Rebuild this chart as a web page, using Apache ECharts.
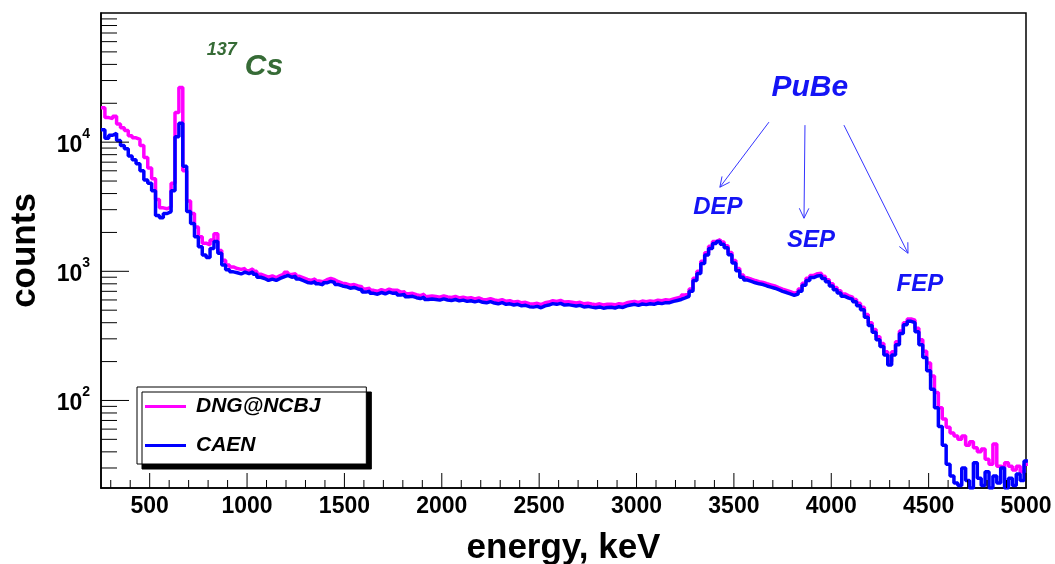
<!DOCTYPE html>
<html>
<head>
<meta charset="utf-8">
<script src="https://cdn.jsdelivr.net/npm/echarts@6/dist/echarts.min.js"></script>
<style>
  html, body { margin: 0; padding: 0; background: #fff; }
  #chart { width: 1055px; height: 564px; }
</style>
</head>
<body>
<div id="chart"></div>
<script>
const FONT = '"Liberation Sans", Arial, Helvetica, sans-serif'

// histogram binning (keV): bin i covers [binStart + i*binWidth, +binWidth)
const binStart = 250
const binWidth = 20

// DNG@NCBJ counts per bin (rows of 100 keV)
const dngCounts = [
  18500, 15500, 15200, 15900, 13800,
  12900, 12300, 11200, 10800, 10500,
  9400, 7600, 6300, 5200, 3600,
  3100, 3050, 3150, 4800, 17000,
  26500, 6000, 3500, 2800, 2200,
  1850, 1650, 1600, 1750, 1950,
  1450, 1220, 1120, 1080, 1050,
  1035, 1050, 1010, 1045, 1000,
  950, 925, 900, 920, 895,
  925, 950, 985, 945, 960,
  915, 890, 865, 850, 875,
  840, 830, 860, 880, 860,
  830, 810, 800, 780, 790,
  770, 760, 730, 738, 712,
  700, 722, 706, 728, 712,
  715, 690, 695, 670, 675,
  660, 648, 665, 638, 645,
  638, 630, 645, 632, 628,
  638, 622, 630, 618, 625,
  612, 622, 606, 602, 614,
  600, 592, 604, 586, 592,
  578, 585, 570, 575, 562,
  558, 565, 552, 570, 578,
  592, 585, 595, 578, 582,
  575, 568, 575, 560, 565,
  558, 552, 560, 548, 555,
  556, 550, 562, 555, 570,
  578, 585, 575, 588, 582,
  590, 585, 598, 592, 602,
  598, 610, 622, 632, 655,
  668, 730, 885, 1000, 1195,
  1390, 1560, 1700, 1760, 1690,
  1580, 1400, 1210, 1050, 935,
  890, 868, 848, 832, 820,
  802, 786, 770, 748, 728,
  712, 695, 678, 690, 728,
  810, 885, 930, 958, 965,
  915, 862, 800, 750, 708,
  668, 646, 632, 605, 565,
  528, 462, 400, 355, 312,
  276, 238, 200, 238, 285,
  345, 400, 428, 418, 362,
  295, 240, 195, 155, 115,
  88, 72, 62, 56, 53,
  50, 53, 45, 48, 43,
  40, 42, 35, 32, 46,
  31, 30, 33, 31, 29,
  31, 28, 32
]

// CAEN counts per bin
const caenCounts = [
  12500, 10700, 11300, 11700, 10300,
  9400, 8900, 7800, 7300, 6800,
  6000, 5100, 4800, 4200, 2700,
  2600, 2800, 2900, 4200, 11000,
  14000, 6500, 2900, 2350, 1850,
  1550, 1340, 1280, 1500, 1700,
  1380, 1120, 1030, 990, 975,
  955, 985, 960, 990, 950,
  900, 880, 850, 870, 850,
  880, 905, 930, 900, 915,
  870, 845, 820, 810, 830,
  800, 785, 815, 835, 820,
  790, 770, 760, 740, 750,
  730, 720, 690, 700, 675,
  665, 685, 670, 690, 675,
  680, 655, 660, 635, 640,
  625, 615, 630, 605, 610,
  605, 598, 612, 600, 595,
  605, 590, 598, 585, 592,
  580, 590, 575, 570, 582,
  568, 560, 572, 555, 560,
  548, 555, 540, 545, 532,
  528, 535, 522, 540, 548,
  562, 555, 565, 548, 552,
  545, 538, 545, 530, 535,
  528, 522, 530, 518, 525,
  527, 520, 532, 525, 540,
  548, 555, 545, 558, 552,
  560, 555, 568, 562, 572,
  572, 585, 595, 605, 622,
  640, 700, 850, 960, 1150,
  1340, 1500, 1640, 1700, 1620,
  1520, 1345, 1160, 1010, 900,
  855, 835, 815, 800, 790,
  770, 755, 740, 720, 700,
  685, 668, 652, 665, 700,
  780, 850, 895, 920, 930,
  880, 830, 770, 720, 680,
  640, 620, 608, 580, 540,
  505, 440, 380, 338, 295,
  262, 225, 188, 225, 270,
  330, 385, 410, 400, 340,
  270, 215, 170, 122, 88,
  63, 45, 32, 26, 23,
  22, 30, 24, 21, 33,
  25, 22, 28, 21, 26,
  23, 30, 21, 25, 22,
  27, 24, 34
]

const xMin = 250
const xMax = 5000
const yMin = 21
const yMax = 100000

const xMajorTicks = [500, 1000, 1500, 2000, 2500, 3000, 3500, 4000, 4500, 5000]
const xMinorTicks = [
  300, 400, 600, 700, 800, 900, 1100, 1200, 1300, 1400,
  1600, 1700, 1800, 1900, 2100, 2200, 2300, 2400, 2600, 2700,
  2800, 2900, 3100, 3200, 3300, 3400, 3600, 3700, 3800, 3900,
  4100, 4200, 4300, 4400, 4600, 4700, 4800, 4900
]
const yMajorTicks = [100, 1000, 10000]
const yMinorTicks = [
  30, 40, 50, 60, 70, 80, 90,
  200, 300, 400, 500, 600, 700, 800, 900,
  2000, 3000, 4000, 5000, 6000, 7000, 8000, 9000,
  20000, 30000, 40000, 50000, 60000, 70000, 80000, 90000
]

// text annotations, anchored in data coordinates (keV, counts)
const annoText = ['137', 'Cs', 'PuBe', 'DEP', 'SEP', 'FEP']
const annoX = [793, 988, 3890, 3418, 3896, 4455]
const annoY = [51600, 38500, 26220, 3130, 1738, 793]

// PuBe arrows: start and tip, data coordinates
const arrowFrom = [[3680, 14290], [3865, 13550], [4065, 13550]]
const arrowTo = [[3428, 4477], [3860, 2577], [4394, 1380]]

const GREEN = '#366b36'
const BLUE_TXT = '#1414f5'
const annoStyles = [
  { color: GREEN, font: `italic bold 18px ${FONT}`, align: 'left' },
  { color: GREEN, font: `italic bold 30px ${FONT}`, align: 'left' },
  { color: BLUE_TXT, font: `italic bold 30px ${FONT}`, align: 'center' },
  { color: BLUE_TXT, font: `italic bold 24px ${FONT}`, align: 'center' },
  { color: BLUE_TXT, font: `italic bold 24px ${FONT}`, align: 'center' },
  { color: BLUE_TXT, font: `italic bold 24px ${FONT}`, align: 'center' }
]

function histData(counts) {
  const pts = counts.map((c, i) => [binStart + i * binWidth, c])
  pts.push([binStart + counts.length * binWidth, counts[counts.length - 1]])
  return pts
}

function tickSeries(values, axis, len) {
  return {
    type: 'custom',
    silent: true,
    z: 5,
    data: values.map(v => axis === 'x' ? [v, yMin] : [xMin, v]),
    encode: { x: 0, y: 1 },
    renderItem: (params, api) => {
      const cs = params.coordSys
      const p = api.coord([api.value(0), api.value(1)])
      const shape = axis === 'x'
        ? { x1: p[0], y1: cs.y + cs.height, x2: p[0], y2: cs.y + cs.height - len }
        : { x1: cs.x, y1: p[1], x2: cs.x + len, y2: p[1] }
      return { type: 'line', shape, style: { stroke: '#000', lineWidth: 1 } }
    }
  }
}

const isDecade = v => {
  const e = Math.log10(v)
  return Math.abs(e - Math.round(e)) < 1e-6
}

const chart = echarts.init(document.getElementById('chart'), null, { renderer: 'canvas' })

chart.setOption({
  animation: false,
  backgroundColor: '#fff',
  textStyle: { fontFamily: FONT },
  grid: {
    left: 101, right: 29, top: 13, bottom: 76,
    outerBoundsMode: 'none',
    containLabel: false,
    show: true, borderColor: '#000', borderWidth: 1.5, backgroundColor: 'transparent'
  },
  legend: {
    data: ['DNG@NCBJ', 'CAEN'],
    orient: 'vertical',
    left: 137,
    top: 387,
    padding: [9, 46, 8, 8],
    itemGap: 18,
    itemWidth: 41,
    itemHeight: 3,
    icon: 'rect',
    backgroundColor: '#fff',
    borderColor: '#000',
    borderWidth: 1,
    shadowColor: '#000',
    shadowBlur: 0,
    shadowOffsetX: 5,
    shadowOffsetY: 5,
    selectedMode: false,
    textStyle: {
      fontFamily: FONT, fontStyle: 'italic', fontWeight: 'bold',
      fontSize: 21, color: '#000', lineHeight: 20, padding: [0, 0, 0, 5]
    }
  },
  xAxis: {
    type: 'value',
    min: xMin,
    max: xMax,
    interval: 250,
    name: 'energy, keV',
    nameLocation: 'middle',
    nameGap: 43,
    nameTextStyle: { fontFamily: FONT, fontWeight: 'bold', fontSize: 35, color: '#000' },
    axisLine: { lineStyle: { color: '#000', width: 1.5 } },
    axisTick: { show: false },
    splitLine: { show: false },
    axisLabel: {
      margin: 7,
      fontFamily: FONT, fontWeight: 'bold', fontSize: 23, color: '#000',
      formatter: v => (v % 500 === 0 ? String(v) : '')
    }
  },
  yAxis: {
    type: 'log',
    logBase: 10,
    min: yMin,
    max: yMax,
    name: 'counts',
    nameLocation: 'middle',
    nameGap: 58,
    nameTextStyle: { fontFamily: FONT, fontWeight: 'bold', fontSize: 35, color: '#000' },
    axisLine: { lineStyle: { color: '#000', width: 1.5 } },
    axisTick: { show: false },
    splitLine: { show: false },
    axisLabel: {
      margin: 11,
      color: '#000',
      formatter: v => {
        if (!isDecade(v)) return ''
        const e = Math.round(Math.log10(v))
        if (e < 2 || e > 4) return ''
        return '{b|10}{s|' + e + '}'
      },
      rich: {
        b: { fontFamily: FONT, fontWeight: 'bold', fontSize: 23, color: '#000', lineHeight: 30, verticalAlign: 'bottom' },
        s: { fontFamily: FONT, fontWeight: 'bold', fontSize: 14, color: '#000', lineHeight: 14, verticalAlign: 'top' }
      }
    }
  },
  series: [
    {
      name: 'DNG@NCBJ',
      type: 'line',
      step: 'end',
      showSymbol: false,
      symbol: 'none',
      data: histData(dngCounts),
      color: '#ff00ff',
      lineStyle: { color: '#ff00ff', width: 3.5 },
      z: 2
    },
    {
      name: 'CAEN',
      type: 'line',
      step: 'end',
      showSymbol: false,
      symbol: 'none',
      data: histData(caenCounts),
      color: '#0000ff',
      lineStyle: { color: '#0000ff', width: 3.5 },
      z: 3
    },
    tickSeries(xMajorTicks, 'x', 15),
    tickSeries(xMinorTicks, 'x', 8),
    tickSeries(yMajorTicks, 'y', 28),
    tickSeries(yMinorTicks, 'y', 16),
    {
      type: 'custom',
      silent: true,
      z: 6,
      data: arrowFrom.map((f, i) => [f[0], f[1], arrowTo[i][0], arrowTo[i][1]]),
      encode: { x: [0, 2], y: [1, 3] },
      renderItem: (params, api) => {
        const a = api.coord([api.value(0), api.value(1)])
        const b = api.coord([api.value(2), api.value(3)])
        const ang = Math.atan2(b[1] - a[1], b[0] - a[0])
        const h = 11
        const spread = 0.45
        const l = [b[0] - h * Math.cos(ang - spread), b[1] - h * Math.sin(ang - spread)]
        const r = [b[0] - h * Math.cos(ang + spread), b[1] - h * Math.sin(ang + spread)]
        const stroke = { stroke: '#3434ff', lineWidth: 1, fill: null }
        return {
          type: 'group',
          children: [
            { type: 'line', shape: { x1: a[0], y1: a[1], x2: b[0], y2: b[1] }, style: stroke },
            { type: 'polyline', shape: { points: [l, b, r] }, style: stroke }
          ]
        }
      }
    },
    {
      type: 'custom',
      silent: true,
      z: 6,
      data: annoX.map((x, i) => [x, annoY[i]]),
      encode: { x: 0, y: 1 },
      renderItem: (params, api) => {
        const i = params.dataIndex
        const p = api.coord([api.value(0), api.value(1)])
        const s = annoStyles[i]
        return {
          type: 'text',
          x: p[0],
          y: p[1],
          style: { text: annoText[i], fill: s.color, font: s.font, align: s.align, verticalAlign: 'middle' }
        }
      }
    }
  ]
})
</script>
</body>
</html>
